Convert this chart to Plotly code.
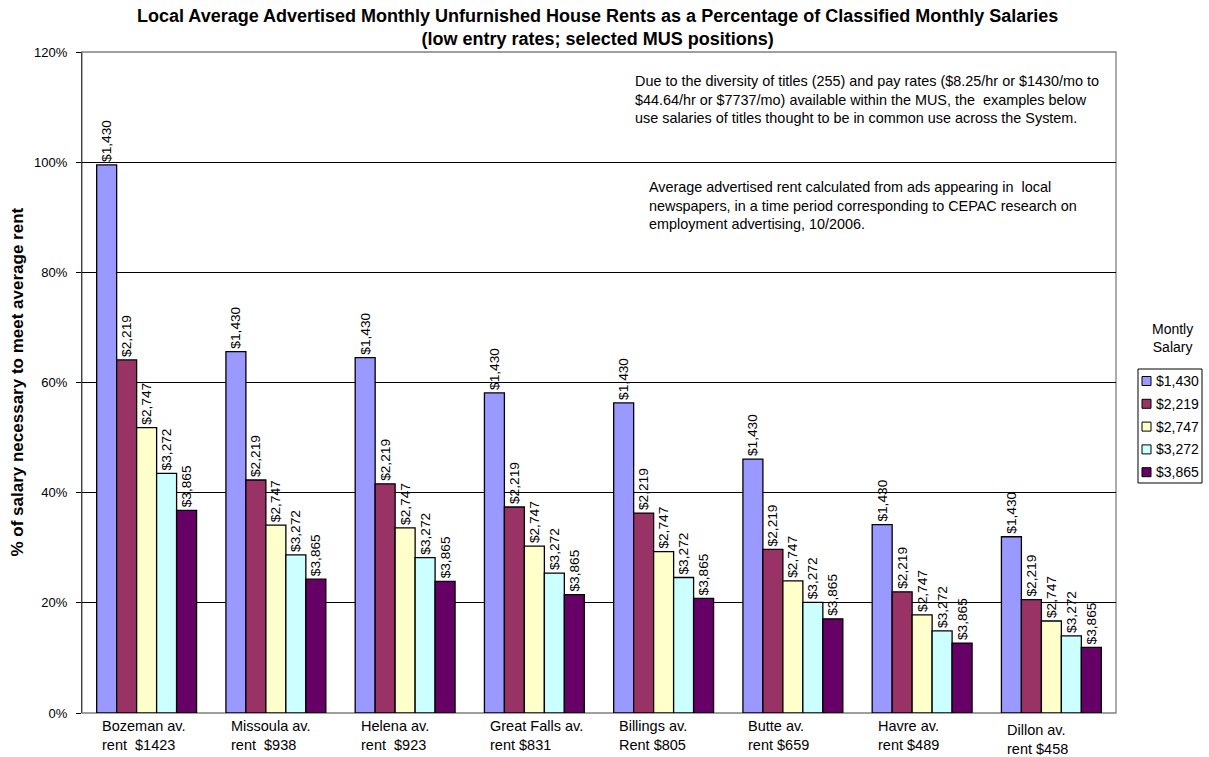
import plotly.graph_objects as go

# --- data -------------------------------------------------------------
cities = ["Bozeman", "Missoula", "Helena", "Great Falls",
          "Billings", "Butte", "Havre", "Dillon"]
city_labels = [
    "Bozeman av.<br>rent\u00a0 $1423",
    "Missoula av.<br>rent\u00a0 $938",
    "Helena av.<br>rent\u00a0 $923",
    "Great Falls av.<br>rent $831",
    "Billings av.<br>Rent $805",
    "Butte av.<br>rent $659",
    "Havre av.<br>rent $489",
    "Dillon av.<br>rent $458",
]
salaries = ["$1,430", "$2,219", "$2,747", "$3,272", "$3,865"]

# rent as % of monthly salary, one list per salary level
pct_1430 = [99.5, 65.6, 64.5, 58.1, 56.3, 46.1, 34.2, 32.0]
pct_2219 = [64.1, 42.3, 41.6, 37.4, 36.3, 29.7, 22.0, 20.6]
pct_2747 = [51.8, 34.1, 33.6, 30.3, 29.3, 24.0, 17.8, 16.7]
pct_3272 = [43.5, 28.7, 28.2, 25.4, 24.6, 20.1, 14.9, 14.0]
pct_3865 = [36.8, 24.3, 23.9, 21.5, 20.8, 17.1, 12.7, 11.9]
series = [pct_1430, pct_2219, pct_2747, pct_3272, pct_3865]

y_ticks = [0, 20, 40, 60, 80, 100, 120]
y_tick_labels = ["0%", "20%", "40%", "60%", "80%", "100%", "120%"]

colors = ["#9999FF", "#993366", "#FFFFCC", "#CCFFFF", "#660066"]

title_text = ("<b>Local Average Advertised Monthly Unfurnished House Rents as a Percentage of Classified Monthly Salaries<br>"
              "(low entry rates; selected MUS positions)</b>")
note_1 = ("Due to the diversity of titles (255) and pay rates ($8.25/hr or $1430/mo to<br>"
          "$44.64/hr or $7737/mo) available within the MUS, the\u00a0 examples below<br>"
          "use salaries of titles thought to be in common use across the System.")
note_2 = ("Average advertised rent calculated from ads appearing in\u00a0 local<br>"
          "newspapers, in a time period corresponding to CEPAC research on<br>"
          "employment advertising, 10/2006.")

# --- page geometry ------------------------------------------------------
W, H = 1209, 757
ML, MR, MT, MB = 82, 93, 52, 44
PW, PH = W - ML - MR, H - MT - MB
FONT = "Liberation Sans, Arial, sans-serif"


def px_x(x):
    return (x - ML) / PW


def px_y(y):
    return (H - MB - y) / PH


fig = go.Figure()
for name, vals, col in zip(salaries, series, colors):
    fig.add_trace(go.Bar(
        x=cities, y=vals, name=name,
        text=[name] * len(vals),
        textposition="outside", textangle=-90,
        textfont=dict(family=FONT, size=13.7, color="black"),
        constraintext="none", cliponaxis=False,
        marker=dict(color=col, line=dict(color="black", width=1.3)),
        showlegend=False,
    ))

annotations = []
# chart title
annotations.append(dict(
    x=px_x(597), y=px_y(4), xref="paper", yref="paper",
    xanchor="center", yanchor="top", text=title_text, showarrow=False,
    align="center", font=dict(family=FONT, size=18, color="black"),
))

# category labels, left aligned under each group
for i, lab in enumerate(city_labels):
    annotations.append(dict(
        x=i - 0.36, xref="x", y=0, yref="paper",
        xanchor="left", yanchor="top", yshift=-3 - (4 if i == len(city_labels) - 1 else 0),
        text=lab, showarrow=False, align="left",
        font=dict(family=FONT, size=14.5, color="black"),
    ))

# explanatory notes
annotations.append(dict(
    x=px_x(633), y=px_y(71), xref="paper", yref="paper",
    xanchor="left", yanchor="top", text=note_1, showarrow=False, align="left",
    font=dict(family=FONT, size=14.4, color="black"),
))
annotations.append(dict(
    x=px_x(647), y=px_y(177), xref="paper", yref="paper",
    xanchor="left", yanchor="top", text=note_2, showarrow=False, align="left",
    font=dict(family=FONT, size=14.4, color="black"),
))

# y axis title
annotations.append(dict(
    x=px_x(17), y=0.5, xref="paper", yref="paper",
    xanchor="center", yanchor="middle",
    text="<b>% of salary necessary to meet average rent</b>", textangle=-90,
    showarrow=False, font=dict(family=FONT, size=17, color="black"),
))

# legend (title, boxed entries)
annotations.append(dict(
    x=px_x(1172), y=px_y(338), xref="paper", yref="paper",
    xanchor="center", yanchor="middle",
    text="Montly<br>Salary", showarrow=False, align="center",
    font=dict(family=FONT, size=14, color="black"),
))
shapes = [
    # plot-area frame
    dict(type="rect", xref="paper", yref="paper", x0=0, x1=1, y0=0, y1=1,
         line=dict(color="#808080", width=1.3), layer="below"),
    # legend box
    dict(type="rect", xref="paper", yref="paper",
         x0=px_x(1138), x1=px_x(1202), y0=px_y(369), y1=px_y(483),
         line=dict(color="black", width=1), fillcolor="white"),
]
row0, row_step = 381, 22.8
for k, (name, col) in enumerate(zip(salaries, colors)):
    cy = row0 + k * row_step
    shapes.append(dict(
        type="rect", xref="paper", yref="paper",
        x0=px_x(1142), x1=px_x(1151), y0=px_y(cy - 4.5), y1=px_y(cy + 4.5),
        fillcolor=col, line=dict(color="black", width=1)))
    annotations.append(dict(
        x=px_x(1154), y=px_y(cy), xref="paper", yref="paper",
        xanchor="left", yanchor="middle", text=name, showarrow=False,
        font=dict(family=FONT, size=14, color="black"),
    ))

fig.update_layout(
    width=W, height=H,
    margin=dict(l=ML, r=MR, t=MT, b=MB, pad=0),
    paper_bgcolor="white", plot_bgcolor="white",
    barmode="group", bargap=0.227, bargroupgap=0,
    xaxis=dict(type="category", showticklabels=False, ticks="",
               showgrid=False, showline=False, zeroline=False),
    yaxis=dict(range=[0, 120], tickvals=y_ticks, ticktext=y_tick_labels,
               showgrid=True, gridcolor="black", gridwidth=1,
               showline=True, linecolor="#404040", linewidth=1.3,
               ticks="outside", ticklen=5, tickcolor="black",
               ticklabelstandoff=6, zeroline=False,
               tickfont=dict(family=FONT, size=13, color="black")),
    annotations=annotations,
    shapes=shapes,
)

fig.write_html("out.html")
